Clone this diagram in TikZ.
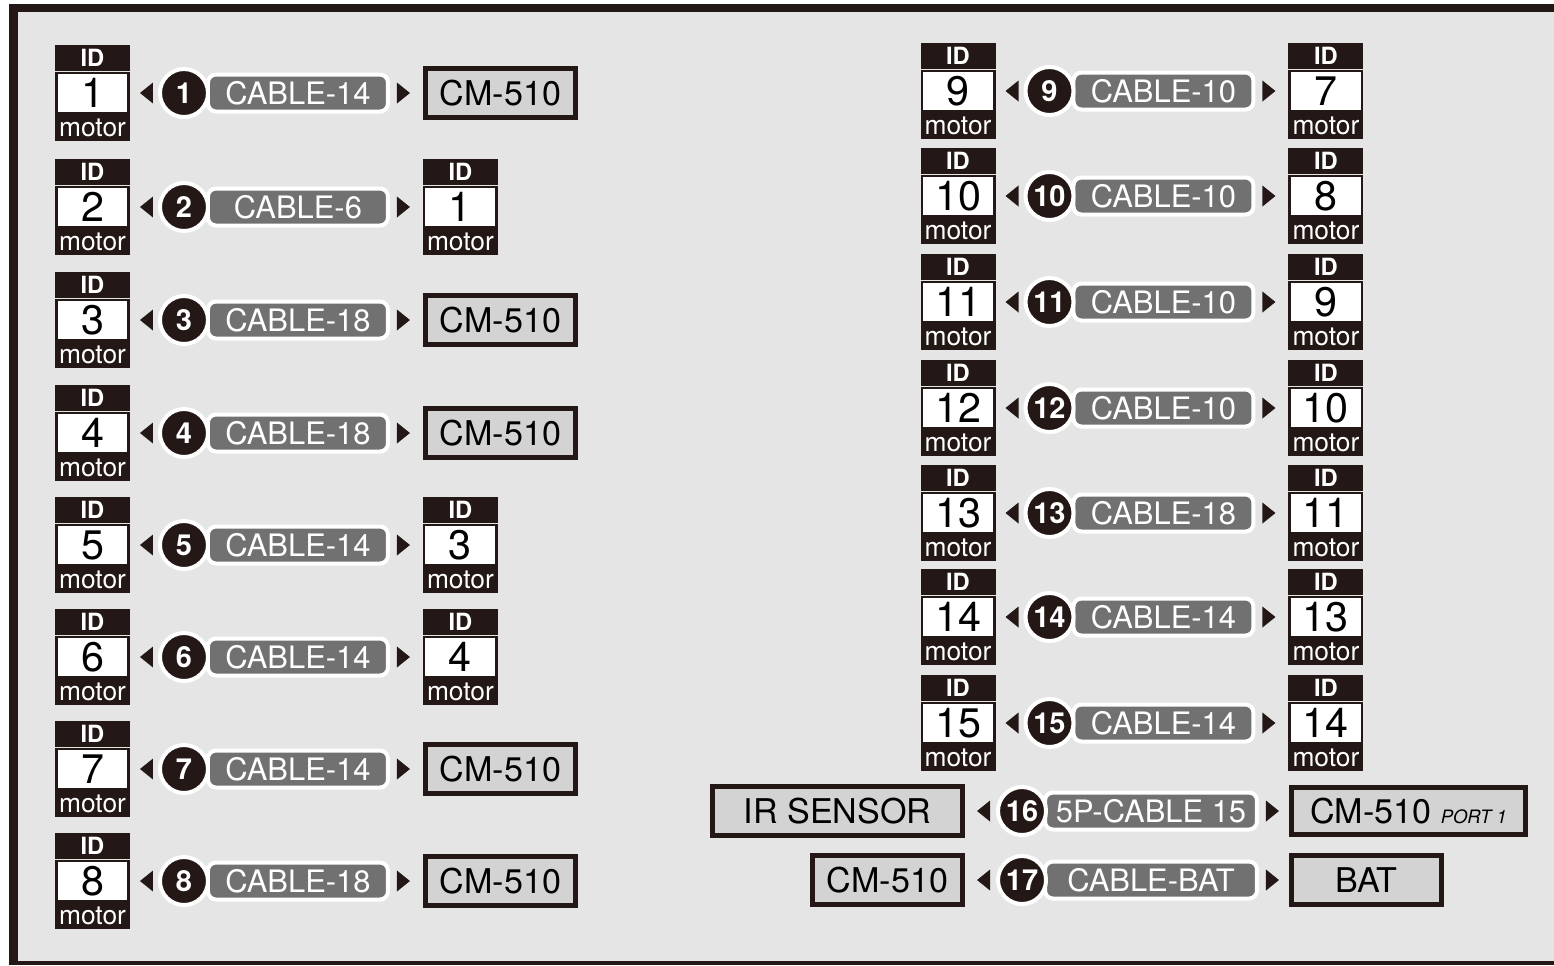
\documentclass[tikz,border=0pt]{standalone}
\usepackage{fontspec}
\setmainfont{TeX Gyre Heros}
\usetikzlibrary{
  positioning,      % for relative placement
  shapes.geometric} % for isosceles triangle
\definecolor{ink}{HTML}{231815}
\definecolor{panel}{HTML}{E5E5E5}
\definecolor{boxgray}{HTML}{D3D3D3}
\definecolor{cablegray}{HTML}{717171}
\tikzset{
  id box/.style={
    shape=rectangle, draw=ink, line width=.05cm, fill=white,
    minimum width=1.45cm, minimum height=.81cm, inner sep=0pt,
    font=\fontsize{23.5}{23.5}\selectfont,
    append after command={
      \pgfextra{\let\TikZlastnode\tikzlastnode}
      % black strips above and below the number
      node [id cap, anchor=south] (cap-\TikZlastnode) at (\TikZlastnode.north) {ID}
      node [id foot, anchor=north] (foot-\TikZlastnode) at (\TikZlastnode.south) {motor}
    }
  },
  id cap/.style={
    fill=ink, text=white, minimum width=1.5cm, minimum height=.52cm,
    inner sep=0pt, font=\bfseries\fontsize{13.5}{14}\selectfont},
  id foot/.style={
    fill=ink, text=white, minimum width=1.5cm, minimum height=.52cm,
    inner sep=0pt, font=\fontsize{15}{15}\selectfont},
  cable/.style={
    shape=rectangle, rounded corners=.16cm, fill=cablegray, draw=white,
    line width=.08cm, text=white, minimum width=#1, minimum height=.74cm,
    inner sep=0pt, outer sep=0pt, font=\fontsize{17.6}{18}\selectfont},
  cable/.default=3.6cm,
  cable no/.style={
    shape=circle, fill=ink, draw=white, line width=.08cm, text=white,
    minimum size=.96cm, inner sep=0pt, font=\bfseries\fontsize{16.5}{16.5}\selectfont},
  tip right/.style={
    shape=isosceles triangle, isosceles triangle stretches,
    minimum width=.42cm, minimum height=.26cm, inner sep=0pt, outer sep=0pt,
    fill=ink},
  tip left/.style={tip right, shape border rotate=180},
  unit box/.style={
    shape=rectangle, draw=ink, line width=.1cm, fill=boxgray,
    minimum width=#1, minimum height=.98cm, inner sep=0pt,
    font=\fontsize{19.4}{20}\selectfont},
  unit box/.default=3cm
}

\begin{document}
\begin{tikzpicture}[x=.02cm, y=-.02cm]
\useasboundingbox (0,0) rectangle (1554,965);
\fill[white] (0,0) rectangle (1554,965);
\fill[ink]   (9,4) rectangle (1554,965);
\fill[panel] (18,12) rectangle (1554,961);

% motor to motor / controller rows
\foreach \row/\px/\py/\cab/\tgt/\what in {
    1/92.5/93/CABLE-14/unit box/CM-510,  2/92.5/207/CABLE-6/id box/1,
    3/92.5/320/CABLE-18/unit box/CM-510, 4/92.5/433/CABLE-18/unit box/CM-510,
    5/92.5/545/CABLE-14/id box/3,        6/92.5/657/CABLE-14/id box/4,
    7/92.5/769/CABLE-14/unit box/CM-510, 8/92.5/881/CABLE-18/unit box/CM-510,
    9/958/91/CABLE-10/id box/7,          10/958/196/CABLE-10/id box/8,
    11/958/302/CABLE-10/id box/9,        12/958/408/CABLE-10/id box/10,
    13/958/513/CABLE-18/id box/11,       14/958/617/CABLE-14/id box/13,
    15/958/723/CABLE-14/id box/14} {
  \node[id box] (m\row) at (\px,\py) {\row};
  \node[tip left, right=.2cm of m\row] (tl\row) {};
  \node[cable, right=1.1cm of tl\row] (c\row) {\cab};
  \node[cable no] (n\row) at ([xshift=-.48cm]c\row.west) {\row};
  \node[tip right, right=.18cm of c\row] (tr\row) {};
  \node[style/.expanded=\tgt, right=.26cm of tr\row] (t\row) {\what};
}

% sensor and battery rows
\node[cable=4.24cm] (c16) at (1151,811) {5P-CABLE 15};
\node[cable no] (n16) at ([xshift=-.46cm]c16.west) {16};
\node[tip left, left=1.1cm of c16] (tl16) {};
\node[unit box=5cm, left=.24cm of tl16] (s16) {IR SENSOR};
\node[tip right, right=.18cm of c16] (tr16) {};
\node[unit box=4.68cm, minimum height=.94cm, right=.2cm of tr16] (t16)
  {CM-510 \textit{\fontsize{10.5}{11}\selectfont PORT 1}};

\node[cable=4.24cm] (c17) at (1151,880) {CABLE-BAT};
\node[cable no] (n17) at ([xshift=-.46cm]c17.west) {17};
\node[tip left, left=1.1cm of c17] (tl17) {};
\node[unit box, left=.24cm of tl17] (s17) {CM-510};
\node[tip right, right=.18cm of c17] (tr17) {};
\node[unit box, right=.2cm of tr17] (t17) {BAT};
\end{tikzpicture}
\end{document}
